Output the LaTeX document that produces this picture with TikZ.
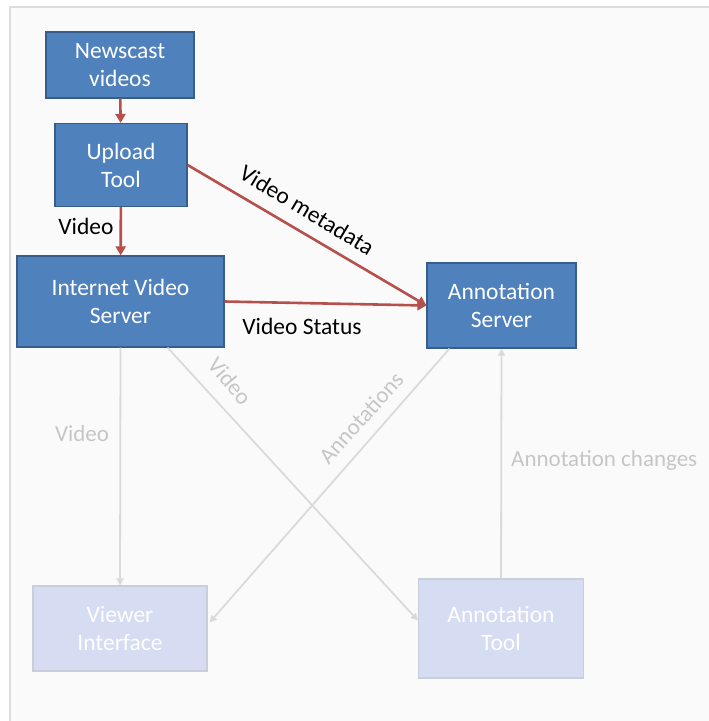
\documentclass[tikz,border=0pt]{standalone}
\usepackage{fontspec}
\setmainfont{Carlito}
\usetikzlibrary{arrows.meta,calc}
\definecolor{boxblue}{HTML}{4F81BD}
\definecolor{boxedge}{HTML}{385D8A}
\definecolor{redline}{HTML}{B5504B}
\definecolor{paleblue}{HTML}{D6DDF2}
\definecolor{paleedge}{HTML}{C9CFDA}
\definecolor{greyline}{HTML}{DADADA}
\definecolor{greytext}{HTML}{C6C6C6}
\definecolor{pagebg}{HTML}{FAFAFA}
\definecolor{frameline}{HTML}{DDDDDD}
\tikzset{
  bluebox/.style={draw=boxedge, line width=1.2pt, fill=boxblue, text=white, align=center, inner sep=0pt,
    font=\fontsize{23.5}{28}\selectfont},
  palebox/.style={draw=paleedge, line width=1.2pt, fill=paleblue, text=white, align=center, inner sep=0pt,
    font=\fontsize{23.5}{28}\selectfont},
  redarrow/.style={draw=redline, line width=2.6pt, -{Triangle[width=10pt,length=9pt]}},
  greyarrow/.style={draw=greyline, line width=1.8pt, -{Triangle[width=7pt,length=7pt]}},
  blacklabel/.style={text=black, font=\fontsize{23.5}{28}\selectfont, inner sep=0pt},
  greylabel/.style={text=greytext, font=\fontsize{23}{28}\selectfont, inner sep=0pt},
}
\begin{document}
\begin{tikzpicture}[x=1pt,y=-1pt]
\useasboundingbox (0,0) rectangle (709,721);
\fill[white] (0,0) rectangle (709,721);
\fill[pagebg] (10,7) rectangle (709,721);
\draw[frameline, line width=1.5pt] (10,721) -- (10,7) -- (709,7);

% top (active) boxes
\node[bluebox, minimum width=148pt, minimum height=66pt] (news) at (120,65) {Newscast\\videos};
\node[bluebox, minimum width=132pt, minimum height=83pt] (up) at (121,165) {Upload\\Tool};
\node[bluebox, minimum width=207pt, minimum height=91pt] (ivs) at (120.5,301.5) {Internet Video\\Server};
\node[bluebox, minimum width=149pt, minimum height=85pt] (as) at (501.5,305.5) {Annotation\\Server};

% bottom (faded) boxes
\node[palebox, minimum width=174pt, minimum height=85pt] (vi) at (120,628.5) {Viewer\\Interface};
\node[palebox, minimum width=165pt, minimum height=99pt] (at) at (501,628.5) {Annotation\\Tool};

% red connectors
\draw[redarrow] (news) -- (up);
\draw[redarrow] (up) -- (ivs);
\draw[redarrow] (up.east) -- (as.west);
\draw[redarrow] (ivs.east) -- (as.west);

% grey connectors
\draw[greyarrow] (ivs.south) -- (vi.north);
\coordinate (ivsout) at ($(ivs.south)+(47,0)$);
\draw[greyarrow] (ivsout) -- ($(at.west)+(0,-8)$);
\coordinate (asout) at ($(as.south)+(-52,0)$);
\draw[greyarrow] (asout) -- ($(vi.east)+(2,-6)$);
\draw[greyarrow] (at.north) -- (as.south);

% labels
\node[blacklabel] (lvideo) at (86,226) {Video};
\node[blacklabel, rotate=-31] (lmeta) at (307,210) {Video metadata};
\node[blacklabel] (lstatus) at (302,326) {Video Status};
\node[greylabel] (lgv) at (82,434) {Video};
\node[greylabel, rotate=-50] (lgv2) at (230,381) {Video};
\node[greylabel, rotate=48] (lann) at (361,418) {Annotations};
\node[greylabel, anchor=west] (lchg) at (511,460) {Annotation changes};
\end{tikzpicture}
\end{document}
